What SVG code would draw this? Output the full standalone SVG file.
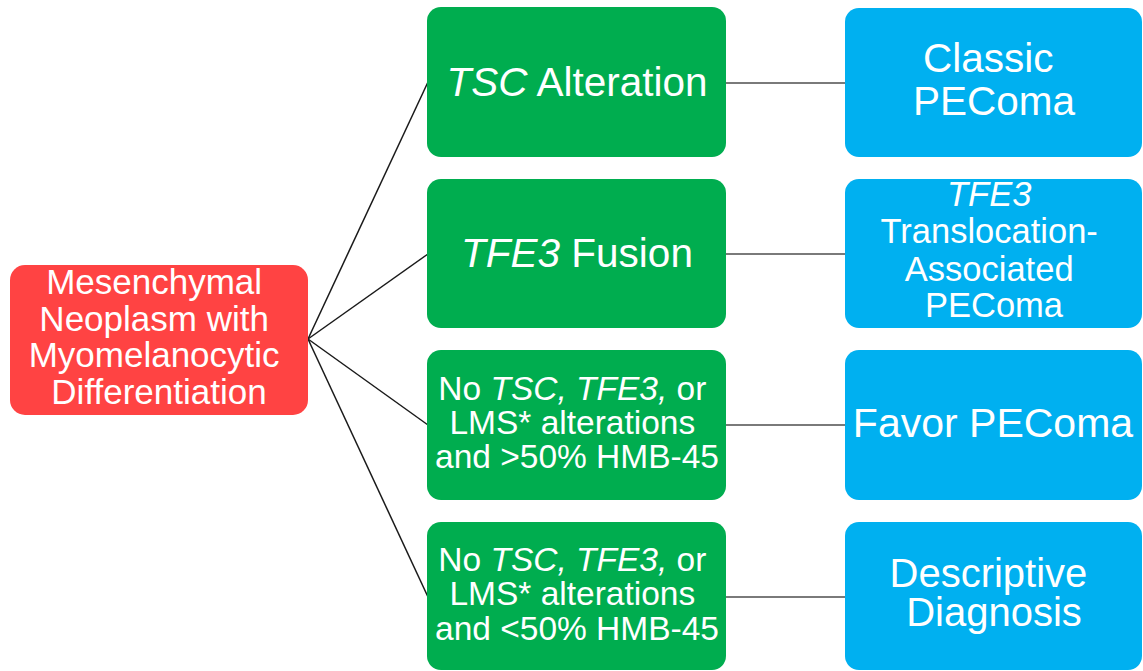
<svg xmlns="http://www.w3.org/2000/svg" width="1143" height="671" viewBox="0 0 1143 671">
  <style>
    text { font-family: "Liberation Sans", Arial, sans-serif; fill: #ffffff; text-anchor: middle; }
    .it { font-style: italic; }
    .root { fill: #ff4343; }
    .mid { fill: #00ad4f; }
    .leaf { fill: #00b0f0; }
    .fan { stroke: #1a1a1a; stroke-width: 1.5; fill: none; }
    .link { stroke: #7a7a7a; stroke-width: 2; fill: none; }
  </style>

  <rect width="1143" height="671" fill="#ffffff"/>

  <!-- connectors -->
  <g id="connectors">
    <line class="fan" x1="308" y1="339" x2="428" y2="82"/>
    <line class="fan" x1="308" y1="339" x2="428" y2="254"/>
    <line class="fan" x1="308" y1="339" x2="428" y2="425"/>
    <line class="fan" x1="308" y1="339" x2="428" y2="597"/>
    <line class="link" x1="726" y1="83" x2="846" y2="83"/>
    <line class="link" x1="726" y1="254" x2="846" y2="254"/>
    <line class="link" x1="726" y1="425" x2="846" y2="425"/>
    <line class="link" x1="726" y1="597" x2="846" y2="597"/>
  </g>

  <!-- root -->
  <g id="root">
    <rect class="root" x="10" y="265" width="298" height="150" rx="15"/>
    <text font-size="35">
      <tspan x="159" y="294">Mesenchymal</tspan>
      <tspan x="159" y="331">Neoplasm with</tspan>
      <tspan x="159" y="367">Myomelanocytic</tspan>
      <tspan x="159" y="404">Differentiation</tspan>
    </text>
  </g>

  <!-- molecular findings -->
  <g id="tsc">
    <rect class="mid" x="427" y="7" width="299" height="150" rx="14"/>
    <text font-size="40.5" x="577" y="96"><tspan class="it">TSC</tspan> Alteration</text>
  </g>
  <g id="tfe3">
    <rect class="mid" x="427" y="179" width="299" height="149" rx="14"/>
    <text font-size="40.5" x="577" y="267"><tspan class="it">TFE3</tspan> Fusion</text>
  </g>
  <g id="neg-high">
    <rect class="mid" x="427" y="350" width="299" height="150" rx="14"/>
    <text font-size="33.5">
      <tspan x="577" y="400">No <tspan class="it">TSC, TFE3,</tspan> or</tspan>
      <tspan x="577" y="434">LMS* alterations</tspan>
      <tspan x="577" y="468">and &gt;50% HMB-45</tspan>
    </text>
  </g>
  <g id="neg-low">
    <rect class="mid" x="427" y="522" width="299" height="148" rx="14"/>
    <text font-size="33.5">
      <tspan x="577" y="571">No <tspan class="it">TSC, TFE3,</tspan> or</tspan>
      <tspan x="577" y="605">LMS* alterations</tspan>
      <tspan x="577" y="640">and &lt;50% HMB-45</tspan>
    </text>
  </g>

  <!-- diagnoses -->
  <g id="classic">
    <rect class="leaf" x="845" y="8" width="297" height="149" rx="14"/>
    <text font-size="40.5">
      <tspan x="994" y="72">Classic</tspan>
      <tspan x="994" y="115">PEComa</tspan>
    </text>
  </g>
  <g id="translocation">
    <rect class="leaf" x="845" y="179" width="297" height="149" rx="14"/>
    <text font-size="34.5">
      <tspan x="994" y="206" class="it">TFE3</tspan>
      <tspan x="994" y="243">Translocation-</tspan>
      <tspan x="994" y="281">Associated</tspan>
      <tspan x="994" y="317">PEComa</tspan>
    </text>
  </g>
  <g id="favor">
    <rect class="leaf" x="845" y="350" width="297" height="150" rx="14"/>
    <text font-size="41" x="993" y="437">Favor PEComa</text>
  </g>
  <g id="descriptive">
    <rect class="leaf" x="845" y="522" width="297" height="148" rx="14"/>
    <text font-size="40">
      <tspan x="994" y="587">Descriptive</tspan>
      <tspan x="994" y="626">Diagnosis</tspan>
    </text>
  </g>
</svg>
